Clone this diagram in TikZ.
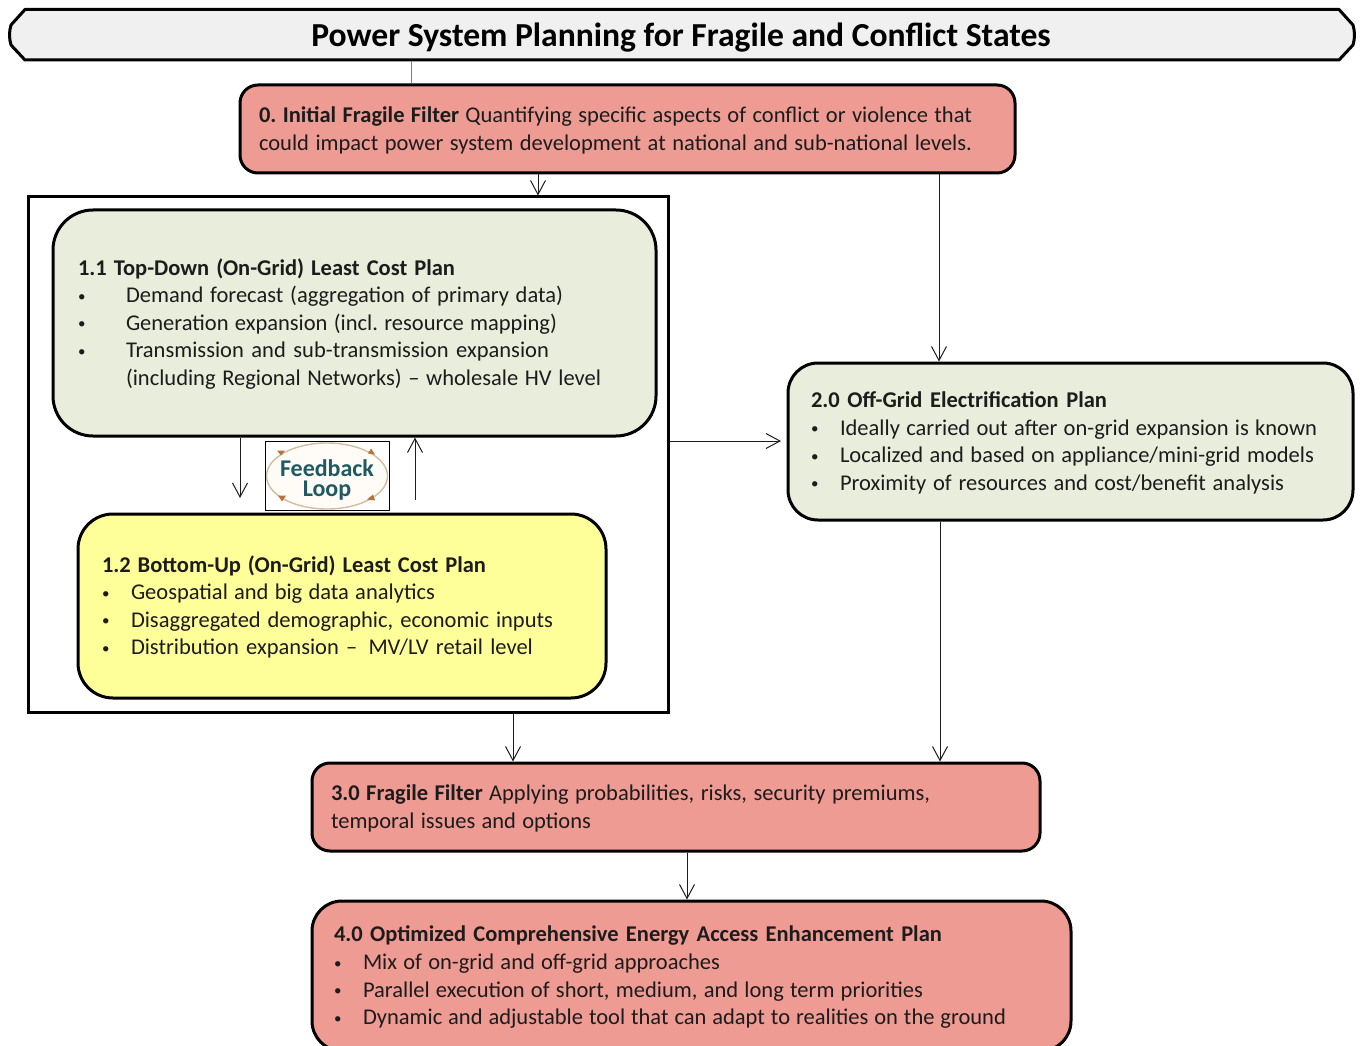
\documentclass[tikz,border=0pt]{standalone}
\usepackage{fontspec}
\setmainfont{Carlito}
\usetikzlibrary{arrows.meta}
\definecolor{redbox}{HTML}{EE9B94}
\definecolor{greenbox}{HTML}{E9EDDC}
\definecolor{yellowbox}{HTML}{FFFF99}
\definecolor{ink}{HTML}{1C1C1C}
\definecolor{fbteal}{HTML}{1F5A62}
\definecolor{fbtan}{HTML}{D4BC9E}
\definecolor{fbtip}{HTML}{B8713A}
\newcommand\fl[2]{{\spaceskip=.25em plus 3em minus .05em\relax\xspaceskip=\spaceskip\makebox[#1pt][s]{#2}}}
\newcommand\dotb{{\fontsize{15}{15}\selectfont\raisebox{1.5pt}{•}}}
\newcommand\blA[2]{\makebox[48pt][l]{\dotb}\fl{#1}{#2}}
\newcommand\blB[2]{\makebox[29pt][l]{\dotb}\fl{#1}{#2}}
\newcommand\contA[2]{\hspace*{48pt}\fl{#1}{#2}}
\begin{document}
\begin{tikzpicture}[x=1pt,y=-1pt,
  box/.style={draw=black,line width=3pt,align=left,inner ysep=0pt,text=ink,
    execute at begin node={\leavevmode\rule{0pt}{18.5pt}},
    font=\fontsize{22.5}{27.6}\selectfont},
  conn/.style={draw=ink,line width=1pt},
  arr/.style={conn,-{Straight Barb[length=14pt,width=15pt,line width=1pt]}},
  fbtipstyle/.style={fill=fbtip,draw=none}]
\useasboundingbox (0,0) rectangle (1361,1046);
\clip (0,0) rectangle (1361,1046);
\foreach \n/\v in {x240/240,x411/411,x415/415,x513/513,x538/538,x687/687,x781/781,x939/939,x940/940}{\coordinate (\n) at (\v,0);}
\coordinate (y441) at (0,441);
\coordinate (y498) at (0,498);
\coordinate (y500) at (0,500);
% frame
\node[draw=black,line width=3pt,fill=white,minimum width=640pt,minimum height=515pt,inner sep=0pt] (frame) at (348,454.5) {};
% title
\filldraw[draw=black,line width=3pt,fill=black!6,line join=round]
  (25,9.5) -- (1339,9.5) -- (1353,25) .. controls (1355,32) and (1355,38) .. (1353,45) -- (1339,60) -- (25,60) -- (11,45) .. controls (9,38) and (9,32) .. (11,25) -- cycle;
\node[inner sep=0pt,minimum width=1344pt,minimum height=45pt,text=black,font=\fontsize{33.6}{36}\selectfont\bfseries] (title) at (681,38) {Power System Planning for Fragile and Conflict States};
% boxes
\node[box,fill=redbox,rounded corners=18pt,minimum height=88pt,text width=737pt,inner xsep=19pt] (b0) at (627.5,129)
 {\fl{713}{\textbf{0. Initial Fragile Filter} Quantifying specific aspects of conflict or violence that}\\\fl{713}{could impact power system development at national and sub-national levels.}};
\node[box,fill=greenbox,rounded corners=40pt,minimum height=226pt,text width=553pt,inner xsep=25pt] (b11) at (354.5,323)
 {\fl{377}{\textbf{1.1 Top-Down (On-Grid) Least Cost Plan}}\\
 \blA{437}{Demand forecast (aggregation of primary data)}\\
 \blA{431}{Generation expansion (incl. resource mapping)}\\
 \blA{423}{Transmission and sub-transmission expansion}\\
 \contA{475}{(including Regional Networks) – wholesale HV level}};
\node[box,fill=yellowbox,rounded corners=35pt,minimum height=184pt,text width=480pt,inner xsep=24pt] (b12) at (342,606)
 {\fl{384}{\textbf{1.2 Bottom-Up (On-Grid) Least Cost Plan}}\\
 \blB{304}{Geospatial and big data analytics}\\
 \blB{422}{Disaggregated demographic, economic inputs}\\
 \blB{402}{Distribution expansion – \,MV/LV retail level}};
\node[box,fill=greenbox,rounded corners=30pt,minimum height=157pt,text width=519pt,inner xsep=23pt] (b2) at (1070.5,441.5)
 {\fl{296}{\textbf{2.0 Off-Grid Electrification Plan}}\\
 \blB{477}{Ideally carried out after on-grid expansion is known}\\
 \blB{474}{Localized and based on appliance/mini-grid models}\\
 \blB{444}{Proximity of resources and cost/benefit analysis}};
\node[box,fill=redbox,rounded corners=18pt,minimum height=88pt,text width=690pt,inner xsep=19pt] (b3) at (676,807)
 {\fl{599}{\textbf{3.0 Fragile Filter} Applying probabilities, risks, security premiums,}\\\fl{260}{temporal issues and options}};
\node[box,fill=redbox,rounded corners=30pt,minimum height=150pt,text width=715pt,inner xsep=22pt] (b4) at (691.5,976)
 {\fl{608}{\textbf{4.0 Optimized Comprehensive Energy Access Enhancement Plan}}\\
 \blB{357}{Mix of on-grid and off-grid approaches}\\
 \blB{560}{Parallel execution of short, medium, and long term priorities}\\
 \blB{643}{Dynamic and adjustable tool that can adapt to realities on the ground}};
% feedback loop
\node[draw=black,line width=1pt,fill=white,minimum width=124pt,minimum height=69pt,inner sep=0pt,
  align=center,text=fbteal,font=\fontsize{24}{20}\selectfont\bfseries,
  path picture={
    \coordinate (c) at (path picture bounding box.center);
    \draw[fbtan,line width=1.4pt,fill=orange!3] ([yshift=-0.5pt]c) ellipse (60.5 and 33);
    \fill[fbtipstyle] ([shift={(-50,-25)}]c) -- ([shift={(-42,-25)}]c) -- ([shift={(-46,-20)}]c) -- cycle;
    \fill[fbtipstyle] ([shift={(44,-27)}]c) -- ([shift={(48,-21)}]c) -- ([shift={(41,-22)}]c) -- cycle;
    \fill[fbtipstyle] ([shift={(-49,20)}]c) -- ([shift={(-41,20)}]c) -- ([shift={(-45,26)}]c) -- cycle;
    \fill[fbtipstyle] ([shift={(40,24)}]c) -- ([shift={(46,19)}]c) -- ([shift={(48,25)}]c) -- cycle;
  }] (fb) at (327,475.5) {\rule{0pt}{25pt}Feedback\\Loop};
% connectors
\draw[conn,draw=gray] (title.south -| x411) -- (b0.north -| x411);
\draw[arr] (b0.south -| x538) -- (frame.north -| x538);
\draw[arr] (b0.south -| x939) -- (b2.north -| x939);
\draw[arr] (frame.east |- y441) -- (x781 |- y441);
\draw[arr] (b11.south -| x240) -- (x240 |- y498);
\draw[arr] (x415 |- y500) -- (b11.south -| x415);
\draw[arr] (frame.south -| x513) -- (b3.north -| x513);
\draw[arr] (b2.south -| x940) -- (b3.north -| x940);
\draw[arr] (b3.south -| x687) -- (b4.north -| x687);
\end{tikzpicture}
\end{document}
